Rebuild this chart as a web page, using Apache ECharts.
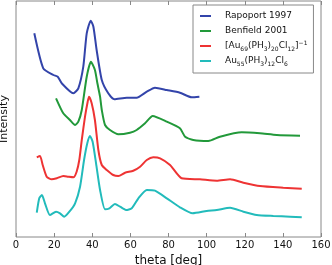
<!DOCTYPE html>
<html><head><meta charset="utf-8">
<script src="https://cdn.jsdelivr.net/npm/echarts@6/dist/echarts.min.js"></script>
<style>html,body{margin:0;padding:0;background:#fff}#c{width:332px;height:265px}</style>
</head><body><div id="c"></div>
<script>
var seriesNames = ['Rapoport 1997', 'Benfield 2001', '[Au69(PH3)20Cl12]-1', 'Au55(PH3)12Cl6'];
var xTicks = [0, 20, 40, 60, 80, 100, 120, 140, 160];

var thetaRapoport = [9.6, 14.3, 19.6, 21.9, 24, 30.1, 32.7, 35.3, 37.1, 39.2, 40.6, 42.3, 45, 48.4, 51.6, 58.1, 63.3, 68.6, 72.9, 79.1, 86, 92.2, 96.2];
var intRapoport = [203.7, 168.7, 162, 160.3, 153.7, 143.7, 148.7, 170.3, 203.7, 216.3, 210.3, 187, 157, 143.7, 137.7, 139.3, 139.3, 145.3, 149.3, 147, 144.3, 139.7, 140.3];

var thetaBenfield = [21, 24.8, 28.3, 31, 32.7, 34.5, 37.1, 39.3, 41.4, 42.7, 44.1, 45, 46.7, 49.3, 53.7, 59.8, 63.3, 67.7, 71.7, 79.1, 86, 88.7, 93, 100.9, 107, 118.4, 128, 136.8, 149];
var intBenfield = [138.7, 123.7, 117, 112, 115.3, 127, 160.3, 175.3, 167, 153.7, 140.3, 127, 112, 107, 102.7, 104.3, 107, 113.7, 121, 115.3, 108.7, 100.3, 97, 96, 100.3, 104.7, 103.7, 102, 101.3];

var thetaAu69 = [10.9, 12.6, 14, 16.1, 18.7, 21.4, 24.8, 27.4, 30.1, 31.8, 33.2, 34.5, 36.2, 37.6, 38.3, 39.7, 41.4, 43.2, 45, 47.6, 51, 53.7, 57.2, 61.5, 65.1, 68.6, 72, 75.6, 80.8, 86.9, 96.5, 105.3, 112.3, 119.3, 128, 140.2, 149.9];
var intAu69 = [79.7, 81, 72, 60.3, 57.7, 58.7, 61, 60.3, 59.7, 65.3, 77, 97, 120.3, 135.3, 140.3, 133.7, 117, 87, 72, 67, 62, 61, 64.3, 66.3, 70.3, 77, 79.7, 78.7, 72, 58.7, 57.7, 56.3, 57.7, 54.3, 51, 49.3, 48.3];

var thetaAu55 = [10.9, 12.2, 13.6, 15.2, 17.8, 21, 23.1, 25.3, 28, 31, 33.6, 35.7, 37.4, 38.8, 40.2, 42, 44.1, 46.7, 49, 51.9, 54.6, 57.7, 60.7, 64.2, 68.6, 72.9, 79.1, 86, 92.7, 100, 105.3, 112.3, 119.3, 126.3, 135, 143.8, 149.9];
var intAu55 = [24.3, 38.7, 42, 33.7, 22, 25.3, 23.7, 20.3, 25.3, 33.7, 50.3, 77, 93.7, 101, 95.3, 73.7, 47, 27.7, 28.7, 33, 30.3, 27, 28.7, 38.7, 47, 46.3, 38.7, 29.7, 23.7, 26, 27, 29.3, 25.3, 22, 21, 20.3, 19.7];

function pairs(xs, ys) { return xs.map(function (x, i) { return [x, ys[i]]; }); }

var colors = ['#3344aa', '#22993a', '#ee3333', '#22bbbb'];
var legendLabels = {
  'Rapoport 1997': 'Rapoport 1997',
  'Benfield 2001': 'Benfield 2001',
  '[Au69(PH3)20Cl12]-1': '[Au{s|69}(PH{s|3}){s|20}Cl{s|12}]{p|\u22121}',
  'Au55(PH3)12Cl6': 'Au{s|55}(PH{s|3}){s|12}Cl{s|6}'
};

var chart = echarts.init(document.getElementById('c'), null, {renderer: 'canvas'});
var font = 'DejaVu Sans';
var allX = [thetaRapoport, thetaBenfield, thetaAu69, thetaAu55];
var allY = [intRapoport, intBenfield, intAu69, intAu55];

chart.setOption({
  animation: false,
  grid: {left: 16, right: 11, top: 1, bottom: 28, show: true, borderColor: '#888', borderWidth: 1,
    containLabel: false, outerBoundsMode: 'none'},
  legend: {
    orient: 'vertical', left: 193, top: 5,
    backgroundColor: '#fff', borderColor: '#888', borderWidth: 1, borderRadius: 0,
    padding: [5, 6, 6, 7], itemGap: 3, itemWidth: 11, itemHeight: 2, icon: 'rect',
    data: seriesNames,
    formatter: function (n) { return legendLabels[n]; },
    textStyle: {
      fontFamily: font, fontSize: 9, color: '#111', padding: [0, 0, 0, 9], lineHeight: 12,
      rich: {
        s: {fontFamily: font, fontSize: 6, verticalAlign: 'bottom', lineHeight: 12, color: '#111', padding: [4, 0, 0, 0]},
        p: {fontFamily: font, fontSize: 6, verticalAlign: 'top', lineHeight: 12, color: '#111', padding: [0, 0, 4, 0]}
      }
    }
  },
  xAxis: [{
    type: 'value', min: 0, max: 160, interval: 20,
    name: 'theta [deg]', nameLocation: 'middle', nameGap: 15,
    nameTextStyle: {fontFamily: font, fontSize: 12, color: '#111'},
    axisLine: {show: false}, splitLine: {show: false},
    axisTick: {show: true, inside: true, length: 4, lineStyle: {color: '#888'}},
    axisLabel: {fontFamily: font, fontSize: 10, color: '#111', margin: 3,
      formatter: function (v) { return xTicks.indexOf(v) >= 0 ? String(v) : ''; }}
  }, {
    type: 'value', position: 'top', min: 0, max: 160, interval: 20,
    axisLine: {show: false}, splitLine: {show: false}, axisLabel: {show: false},
    axisTick: {show: true, inside: true, length: 4, lineStyle: {color: '#888'}}
  }],
  yAxis: {
    type: 'value', min: 0, max: 236,
    name: 'Intensity', nameLocation: 'middle', nameGap: 6, nameRotate: 90,
    nameTextStyle: {fontFamily: font, fontSize: 11, color: '#111'},
    axisLine: {show: false}, axisTick: {show: false}, axisLabel: {show: false}, splitLine: {show: false}
  },
  series: seriesNames.map(function (n, i) {
    return {
      name: n, type: 'line', data: pairs(allX[i], allY[i]), showSymbol: false, symbol: 'none',
      smooth: 0.2, color: colors[i], lineStyle: {width: 2, color: colors[i]}
    };
  })
});
</script></body></html>
